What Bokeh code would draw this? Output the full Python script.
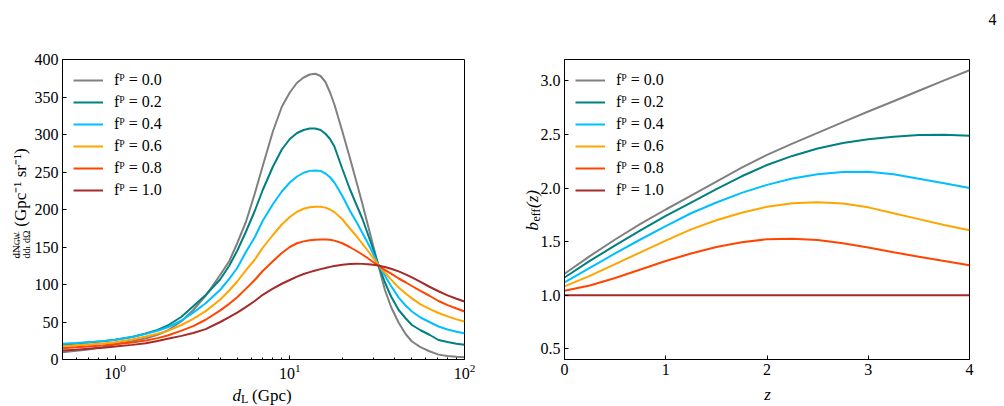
import math
from bokeh.plotting import figure
from bokeh.models import FixedTicker, Legend, LegendItem, Label, Range1d
from bokeh.layouts import row
from bokeh.embed import file_html
from bokeh.resources import INLINE

FONT = "Liberation Serif"

# ---------------- data: left panel (dN/ddL dOmega vs d_L) ----------------
d_L = [0.5, 0.6, 0.7, 0.85, 1.0, 1.25, 1.5, 1.75, 2.0, 2.4, 2.8, 3.3,
       4.0, 4.5, 5.0, 5.6, 6.3, 7.0, 8.0, 9.0, 10.0, 11.0, 12.0, 13.0, 14.0, 15.0,
       16.0, 17.0, 18.0, 20.0, 22.0, 24.0, 26.0, 28.0, 30.0, 32.0, 35.0, 38.0, 42.0,
       46.0, 50.0, 56.0, 63.0, 71.0, 80.0, 90.0, 100.0]
dN_f00 = [9.8, 11.5, 13.3, 16.5, 20.4, 24.5, 28.4, 33, 38.7, 51, 66, 85,
          113, 131, 155, 183, 221, 258, 304, 337, 356, 369, 376, 380, 381, 378,
          370, 356, 340, 304, 270, 238, 208, 179, 152, 127, 93, 70, 49,
          34, 24, 16.5, 11, 6.5, 4.7, 3.6, 3.0]
dN_f02 = [19.5, 21.2, 22.7, 24.3, 26.2, 30, 34.6, 39.5, 45.3, 57, 71, 86,
          107, 125, 145, 170, 198, 226, 257, 280, 294, 302, 306, 308, 308, 306,
          301, 294, 284, 254, 228, 207, 188, 167, 147, 127.7, 103, 84, 66,
          55, 46, 39, 33, 26, 23.3, 21, 19.6]
dN_f04 = [20.9, 22, 23.1, 24.5, 26.2, 30, 34.2, 38.4, 43, 52, 62.5, 75,
          93, 107.5, 122, 143, 163, 185, 207, 224, 236, 244, 249, 251.5, 252, 251.5,
          248, 243, 236, 218, 199, 184, 169, 155, 141, 127, 112, 98, 82.5,
          72, 64, 56, 50, 44, 40, 37, 35]
dN_f06 = [17.8, 18.9, 20, 21.5, 23.1, 26.7, 30.6, 34.3, 38.2, 46, 54.3, 64.5,
          80, 92, 104, 118.7, 133, 149, 166, 180, 190, 197, 201, 203, 203.8, 203.6,
          202.5, 200, 196.5, 187, 175, 165, 154.5, 145, 135.5, 126.5, 116, 106.5, 96,
          88, 81.5, 73.5, 67.5, 62, 57.5, 53.5, 50.6]
dN_f08 = [15.1, 16.2, 17.3, 18.8, 20.4, 22.8, 25.3, 28.5, 32, 38.5, 44.5, 53,
          65.5, 74.2, 83, 94.2, 106, 118, 131, 142, 150, 155, 157.5, 159, 159.8, 160,
          160, 159.6, 158.5, 155, 150, 145, 140, 135, 130, 125.5, 119.5, 114.5, 108,
          103, 98, 91.5, 85, 78, 72.5, 68, 64]
dN_f10 = [12, 13.1, 14.2, 15.7, 17.3, 19.5, 21.8, 24.6, 27.6, 31.5, 35.3, 40.5,
          50, 56.4, 62.5, 69.8, 78, 86.3, 94.5, 101, 106, 110.5, 114, 116.5, 118.7, 120.5,
          122, 123.5, 124.8, 126.4, 127.3, 127.6, 127.5, 127, 126.2, 125.2, 123.3, 121, 117.5,
          113.5, 109.5, 103.5, 97, 91, 85.5, 81, 77.3]

# ---------------- data: right panel (b_eff vs z) ----------------
z = [0.0, 0.25, 0.5, 0.75, 1.0, 1.25, 1.5, 1.75, 2.0, 2.25, 2.5, 2.75, 3.0, 3.25, 3.5, 3.75, 4.0]
b_f00 = [1.20, 1.365, 1.52, 1.665, 1.80, 1.93, 2.06, 2.19, 2.31, 2.415, 2.515, 2.615, 2.715, 2.81, 2.908, 3.005, 3.10]
b_f02 = [1.165, 1.32, 1.465, 1.605, 1.74, 1.865, 1.99, 2.11, 2.215, 2.30, 2.37, 2.42, 2.455, 2.48, 2.495, 2.498, 2.488]
b_f04 = [1.12, 1.255, 1.39, 1.52, 1.645, 1.765, 1.865, 1.955, 2.03, 2.09, 2.13, 2.15, 2.152, 2.128, 2.088, 2.045, 2.0]
b_f06 = [1.083, 1.18, 1.29, 1.40, 1.51, 1.615, 1.70, 1.77, 1.825, 1.858, 1.868, 1.857, 1.82, 1.765, 1.71, 1.655, 1.606]
b_f08 = [1.042, 1.09, 1.16, 1.24, 1.32, 1.39, 1.45, 1.495, 1.522, 1.528, 1.515, 1.485, 1.445, 1.40, 1.36, 1.32, 1.28]
b_f10 = [1.0, 1.0, 1.0, 1.0, 1.0, 1.0, 1.0, 1.0, 1.0, 1.0, 1.0, 1.0, 1.0, 1.0, 1.0, 1.0, 1.0]

series_labels = ["f\u1d3e = 0.0", "f\u1d3e = 0.2", "f\u1d3e = 0.4",
                 "f\u1d3e = 0.6", "f\u1d3e = 0.8", "f\u1d3e = 1.0"]
colors = ["#808080", "#008080", "#00BFFF", "#FFA500", "#FF4500", "#A52A2A"]

left_x_ticks = [1, 10, 100]
left_x_minor = [0.6, 0.7, 0.8, 0.9, 2, 3, 4, 5, 6, 7, 8, 9, 20, 30, 40, 50, 60, 70, 80, 90]
left_y_ticks = [0, 50, 100, 150, 200, 250, 300, 350, 400]
right_x_ticks = [0, 1, 2, 3, 4]
right_x_tick_labels = ["0", "1", "2", "3", "4"]
right_y_ticks = [0.5, 1.0, 1.5, 2.0, 2.5, 3.0]
right_y_tick_labels = ["0.5", "1.0", "1.5", "2.0", "2.5", "3.0"]


def style_axes(p):
    p.outline_line_color = "black"
    p.outline_line_width = 1
    p.outline_line_alpha = 1
    p.xgrid.visible = False
    p.ygrid.visible = False
    p.background_fill_color = "white"
    p.border_fill_color = "white"
    for ax in (p.xaxis[0], p.yaxis[0]):
        ax.axis_line_color = "black"
        ax.major_tick_in = 4
        ax.major_tick_out = 0
        ax.minor_tick_in = 0
        ax.minor_tick_out = 0
        ax.major_tick_line_color = "black"
        ax.minor_tick_line_color = "black"
        ax.major_label_text_font = FONT
        ax.major_label_text_font_size = "16px"
        ax.major_label_text_color = "black"
        ax.major_label_standoff = 4


def add_text(p, place, anchor, corner, text, px, py, size, angle=0.0, align="left",
             baseline="alphabetic", style="normal"):
    # Labels live in a side panel (so they are not clipped to the frame) but are
    # positioned from a data anchor at the frame corner plus a pixel offset.
    x0, y0 = anchor
    fx, fy = corner
    p.add_layout(Label(x=x0, y=y0, x_offset=px - fx, y_offset=fy - py, text=text,
                       text_font=FONT, text_font_size=f"{size}px", text_font_style=style,
                       text_color="black", text_align=align, text_baseline=baseline,
                       angle=angle), place)


def add_legend(p, renderers):
    items = [LegendItem(label=lab, renderers=[r]) for lab, r in zip(series_labels, renderers)]
    leg = Legend(items=items, location="top_left", margin=0, padding=11, spacing=2,
                 glyph_width=30, glyph_height=20, label_height=20, label_standoff=11,
                 border_line_alpha=0, background_fill_alpha=0,
                 label_text_font=FONT, label_text_font_size="16px", label_text_color="black")
    p.add_layout(leg)


R = math.pi / 2

# ---------------- left figure ----------------
p1 = figure(width=500, height=406, x_axis_type="log",
            x_range=Range1d(0.5, 100), y_range=Range1d(0, 400),
            output_backend="svg", toolbar_location=None,
            min_border_left=62, min_border_right=36, min_border_top=59, min_border_bottom=47)
style_axes(p1)
p1.xaxis[0].ticker = FixedTicker(ticks=left_x_ticks, minor_ticks=left_x_minor)
p1.xaxis[0].minor_tick_in = 2
p1.yaxis[0].ticker = FixedTicker(ticks=left_y_ticks)

r1 = []
for ys, c in zip([dN_f00, dN_f02, dN_f04, dN_f06, dN_f08, dN_f10], colors):
    r1.append(p1.line(d_L, ys, line_color=c, line_width=2))
add_legend(p1, r1)

A1 = (0.5, 0)
C1 = (62, 359)
# x label: d_L (Gpc)
add_text(p1, "above", A1, C1, "d", 232, 395, 17, style="italic")
add_text(p1, "above", A1, C1, "L", 240.5, 398, 12)
add_text(p1, "above", A1, C1, "(Gpc)", 251.5, 395, 17)
# y label: dN_GW / (dd_L dOmega)  (Gpc^-1 sr^-1)
add_text(p1, "left", A1, C1, "(Gpc\u207b\u00b9 sr\u207b\u00b9)", 19.5, 187, 17, angle=R, align="center")
add_text(p1, "left", A1, C1, "dN", 15, 258, 11, angle=R)
add_text(p1, "right", A1, C1, "GW", 17, 244.6, 7.5, angle=R)
add_text(p1, "right", A1, C1, "\u2014\u2014\u2014", 16.8, 244.5, 9, angle=R, align="center", baseline="middle")
add_text(p1, "right", A1, C1, "dd", 25.5, 258, 10, angle=R)
add_text(p1, "above", A1, C1, "L", 27.5, 248, 7, angle=R)
add_text(p1, "below", A1, C1, "d\u03a9", 25.5, 242.5, 10, angle=R)

# ---------------- right figure ----------------
p2 = figure(width=504, height=406,
            x_range=Range1d(0, 4), y_range=Range1d(0.4, 3.2),
            output_backend="svg", toolbar_location=None,
            min_border_left=64, min_border_right=35, min_border_top=59, min_border_bottom=46)
style_axes(p2)
p2.xaxis[0].ticker = FixedTicker(ticks=right_x_ticks)
p2.xaxis[0].major_label_overrides = {t: s for t, s in zip(right_x_ticks, right_x_tick_labels)}
p2.yaxis[0].ticker = FixedTicker(ticks=right_y_ticks)
p2.yaxis[0].major_label_overrides = {t: s for t, s in zip(right_y_ticks, right_y_tick_labels)}

r2 = []
for ys, c in zip([b_f00, b_f02, b_f04, b_f06, b_f08, b_f10], colors):
    r2.append(p2.line(z, ys, line_color=c, line_width=2))
add_legend(p2, r2)

A2 = (0, 0.4)
C2 = (64, 360)  # frame bottom-left within this figure (page x offset 500)
add_text(p2, "above", A2, C2, "z", 767 - 500, 395, 17, align="center", style="italic")
add_text(p2, "left", A2, C2, "b", 532 - 500, 231, 17, angle=R, style="italic")
add_text(p2, "left", A2, C2, "eff", 535 - 500, 222, 12, angle=R)
add_text(p2, "right", A2, C2, "(z)", 532 - 500, 208.5, 17, angle=R, style="italic")
add_text(p2, "above", A2, C2, "4", 992 - 500, 20, 16, align="center")

layout = row(p1, p2)
open("out.html", "w").write(file_html(layout, INLINE))
